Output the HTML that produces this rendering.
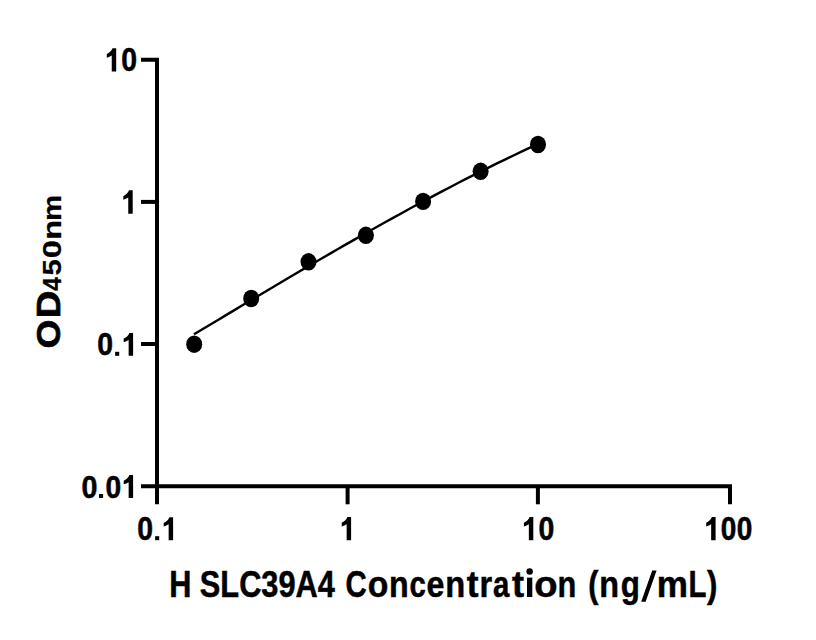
<!DOCTYPE html>
<html><head><meta charset="utf-8">
<style>
html,body{margin:0;padding:0;background:#fff;}
body{width:816px;height:640px;overflow:hidden;}
svg{display:block;}
text{font-family:"Liberation Sans",sans-serif;font-weight:bold;fill:#000;}
</style></head>
<body>
<svg width="816" height="640" viewBox="0 0 816 640">
<rect width="816" height="640" fill="#fff"/>
<g stroke="#000" stroke-width="4" fill="none" stroke-linecap="butt">
<path d="M141,59.8 H157 V504.3"/>
<path d="M141,201.9 H157"/>
<path d="M141,344 H157"/>
<path d="M141,486.3 H730 V504.3"/>
<path d="M347.6,486.3 V504.3"/>
<path d="M537.9,486.3 V504.3"/>
</g>
<path d="M194.00,334.32 L202.00,329.52 L210.00,324.73 L218.00,319.93 L226.00,315.14 L234.00,310.35 L242.00,305.57 L250.00,300.79 L258.00,296.02 L266.00,291.26 L274.00,286.51 L282.00,281.77 L290.00,277.04 L298.00,272.32 L306.00,267.63 L314.00,262.95 L322.00,258.28 L330.00,253.64 L338.00,249.01 L346.00,244.41 L354.00,239.84 L362.00,235.28 L370.00,230.75 L378.00,226.25 L386.00,221.78 L394.00,217.34 L402.00,212.93 L410.00,208.55 L418.00,204.21 L426.00,199.90 L434.00,195.63 L442.00,191.40 L450.00,187.20 L458.00,183.05 L466.00,178.94 L474.00,174.87 L482.00,170.85 L490.00,166.87 L498.00,162.94 L506.00,159.06 L514.00,155.22 L522.00,151.44 L530.00,147.71 L538.00,144.04" stroke="#000" stroke-width="2.4" fill="none"/>
<g fill="#000">
<ellipse cx="194.2" cy="344.2" rx="8" ry="8.7"/>
<ellipse cx="251.2" cy="298.5" rx="8" ry="8.7"/>
<ellipse cx="308.5" cy="261.8" rx="8" ry="8.7"/>
<ellipse cx="365.9" cy="235.3" rx="8" ry="8.7"/>
<ellipse cx="423.1" cy="201.4" rx="8" ry="8.7"/>
<ellipse cx="480.6" cy="171.3" rx="8" ry="8.7"/>
<ellipse cx="538" cy="144.5" rx="8" ry="8.7"/>
</g>
<path transform="translate(106.80,48.30) scale(1.0000,0.9915)" d="M5.7,0 H9.4 V23.5 H4.95 V7.3 C3.5,8.3 1.8,9.0 0,9.5 V5.8 C2.4,4.8 4.6,2.8 5.7,0 Z"/>
<text transform="translate(121.21,71.22) scale(0.8660,1)" font-size="32.82" stroke="#000" stroke-width="0.536">0</text>
<path transform="translate(123.30,190.35) scale(1.0000,0.9957)" d="M5.7,0 H9.4 V23.5 H4.95 V7.3 C3.5,8.3 1.8,9.0 0,9.5 V5.8 C2.4,4.8 4.6,2.8 5.7,0 Z"/>
<text transform="translate(97.16,355.43) scale(0.8812,1)" font-size="32.25" stroke="#000" stroke-width="0.532">0</text>
<rect x="115.10" y="351.80" width="4.1" height="4.0"/>
<path transform="translate(123.70,332.90) scale(1.0000,0.9745)" d="M5.7,0 H9.4 V23.5 H4.95 V7.3 C3.5,8.3 1.8,9.0 0,9.5 V5.8 C2.4,4.8 4.6,2.8 5.7,0 Z"/>
<text transform="translate(81.50,497.63) scale(0.8877,1)" font-size="32.25" stroke="#000" stroke-width="0.530">0</text>
<rect x="99.00" y="494.00" width="4.1" height="4.0"/>
<text transform="translate(105.52,497.63) scale(0.8746,1)" font-size="32.25" stroke="#000" stroke-width="0.533">0</text>
<path transform="translate(123.70,475.10) scale(1.0000,0.9745)" d="M5.7,0 H9.4 V23.5 H4.95 V7.3 C3.5,8.3 1.8,9.0 0,9.5 V5.8 C2.4,4.8 4.6,2.8 5.7,0 Z"/>
<text transform="translate(137.16,539.83) scale(0.8773,1)" font-size="32.39" stroke="#000" stroke-width="0.533">0</text>
<rect x="155.10" y="536.20" width="4.1" height="4.0"/>
<path transform="translate(163.70,517.20) scale(1.0000,0.9787)" d="M5.7,0 H9.4 V23.5 H4.95 V7.3 C3.5,8.3 1.8,9.0 0,9.5 V5.8 C2.4,4.8 4.6,2.8 5.7,0 Z"/>
<path transform="translate(341.70,517.00) scale(1.0000,0.9894)" d="M5.7,0 H9.4 V23.5 H4.95 V7.3 C3.5,8.3 1.8,9.0 0,9.5 V5.8 C2.4,4.8 4.6,2.8 5.7,0 Z"/>
<path transform="translate(523.90,517.00) scale(1.0000,0.9894)" d="M5.7,0 H9.4 V23.5 H4.95 V7.3 C3.5,8.3 1.8,9.0 0,9.5 V5.8 C2.4,4.8 4.6,2.8 5.7,0 Z"/>
<text transform="translate(538.41,539.83) scale(0.8773,1)" font-size="32.39" stroke="#000" stroke-width="0.533">0</text>
<path transform="translate(706.20,517.00) scale(1.0000,0.9894)" d="M5.7,0 H9.4 V23.5 H4.95 V7.3 C3.5,8.3 1.8,9.0 0,9.5 V5.8 C2.4,4.8 4.6,2.8 5.7,0 Z"/>
<text transform="translate(720.73,539.83) scale(0.8643,1)" font-size="32.39" stroke="#000" stroke-width="0.536">0</text>
<text transform="translate(736.83,539.83) scale(0.8643,1)" font-size="32.39" stroke="#000" stroke-width="0.536">0</text>
<text transform="translate(345.62,597.2) scale(0.8000,1)" font-size="36.7" stroke="#000" stroke-width="0.5">C</text>
<text transform="translate(367.65,597.2) scale(0.9200,1)" font-size="36.7" stroke="#000" stroke-width="0.5">o</text>
<text transform="translate(388.93,597.2) scale(0.8767,1)" font-size="36.7" stroke="#000" stroke-width="0.5">n</text>
<text transform="translate(409.43,597.2) scale(0.8000,1)" font-size="36.7" stroke="#000" stroke-width="0.5">c</text>
<text transform="translate(426.60,597.2) scale(0.8767,1)" font-size="36.7" stroke="#000" stroke-width="0.5">e</text>
<text transform="translate(445.35,597.2) scale(0.8904,1)" font-size="36.7" stroke="#000" stroke-width="0.5">n</text>
<text transform="translate(466.76,597.2) scale(0.9617,1)" font-size="36.7" stroke="#000" stroke-width="0.5">t</text>
<text transform="translate(479.61,597.2) scale(0.8851,1)" font-size="36.7" stroke="#000" stroke-width="0.5">r</text>
<text transform="translate(493.00,597.2) scale(0.8000,1)" font-size="36.7" stroke="#000" stroke-width="0.5">a</text>
<text transform="translate(511.95,597.2) scale(0.9872,1)" font-size="36.7" stroke="#000" stroke-width="0.5">t</text>
<rect x="527" y="577.6" width="5.3" height="19.4"/><circle cx="529.65" cy="571.4" r="3.25"/>
<text transform="translate(534.20,597.2) scale(1.0400,1)" font-size="36.7" stroke="#000" stroke-width="0.5">o</text>
<text transform="translate(557.51,597.2) scale(0.8384,1)" font-size="36.7" stroke="#000" stroke-width="0.5">n</text>
<text transform="translate(588.16,597.2) scale(0.8273,1)" font-size="36.7" stroke="#000" stroke-width="0.5">(</text>
<text transform="translate(599.22,597.2) scale(0.8822,1)" font-size="36.7" stroke="#000" stroke-width="0.5">n</text>
<text transform="translate(620.73,597.2) scale(0.8526,1)" font-size="36.7" stroke="#000" stroke-width="0.5">g</text>
<path d="M652.2,570.5 L656.6,570.5 L645.6,601.75 L641.2,601.75 Z"/>
<text transform="translate(656.85,597.2) scale(0.9558,1)" font-size="36.7" stroke="#000" stroke-width="0.5">m</text>
<text transform="translate(688.50,597.2) scale(0.8000,1)" font-size="36.7" stroke="#000" stroke-width="0.5">L</text>
<text transform="translate(707.11,597.2) scale(0.8455,1)" font-size="36.7" stroke="#000" stroke-width="0.5">)</text>
<text transform="translate(60.463,348.59) rotate(-90) scale(1.0928,0.9747)" font-size="34" stroke="#000" stroke-width="0.7">O</text>
<text transform="translate(60.463,318.25) rotate(-90) scale(1.1256,0.9747)" font-size="34" stroke="#000" stroke-width="0.7">D</text>
<text transform="translate(60.719,290.95) rotate(-90) scale(0.9964,1.0373)" font-size="25" stroke="#000" stroke-width="0.25">4</text>
<text transform="translate(60.719,275.38) rotate(-90) scale(1.1680,1.0373)" font-size="25" stroke="#000" stroke-width="0.25">5</text>
<text transform="translate(60.719,258.24) rotate(-90) scale(1.3000,1.0373)" font-size="25" stroke="#000" stroke-width="0.25">0</text>
<text transform="translate(60.719,239.76) rotate(-90) scale(1.3000,1.0373)" font-size="25" stroke="#000" stroke-width="0.25">n</text>
<text transform="translate(60.719,220.97) rotate(-90) scale(1.1792,1.0373)" font-size="25" stroke="#000" stroke-width="0.25">m</text>
<text transform="translate(169.14,596.80) scale(0.8539,1.0060)" font-size="36" stroke="#000" stroke-width="0.5">H SLC39A4</text>
</svg>
</body></html>
